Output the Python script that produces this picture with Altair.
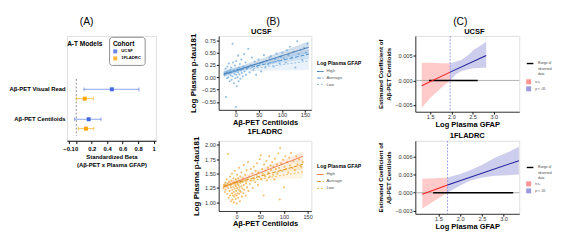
import altair as alt
import pandas as pd

FONT = "Liberation Sans"

# ---------------- Panel labels ----------------
panel_labels = ["(A)", "(B)", "(C)"]

# ---------------- Panel A data ----------------
a_measure_order = ["Aβ-PET Visual Read", "Aβ-PET Centiloids"]
a_cohort_order = ["UCSF", "1FLADRC"]
a_colors = ["#4169E1", "#FFA500"]
a_measure = ["Aβ-PET Visual Read", "Aβ-PET Visual Read", "Aβ-PET Centiloids", "Aβ-PET Centiloids"]
a_cohort = ["UCSF", "1FLADRC", "UCSF", "1FLADRC"]
a_beta = [0.46, 0.11, 0.16, 0.125]
a_lo = [0.10, 0.00, -0.02, 0.025]
a_hi = [0.81, 0.22, 0.32, 0.227]
a_ticks = [-0.1, 0, 0.2, 0.4, 0.6, 0.8, 1]

# ---------------- Panel B data ----------------
b_levels = ["High", "Average", "Low"]
b_dash = [[1, 0], [4, 2], [2, 2]]

b1_pt_x = [-24, -22, -21, -20, -19, -18, -17, -16, -15, -14, -13, -12, -11, -10, -9, -8, -7, -7, -6, -5,
           -4, -3, -2, -1, 0, 0, 1, 1, 2, 3, 4, 5, 5, 6, 7, 8, 9, 10, 11, 12, 13, 15, 16, 18, 19, 21, 22, 24,
           27, 30, 32, 35, 38, 41, 44, 46, 49, 52, 55, 58, 61, 64, 67, 70, 73, 76, 79, 82, 85, 88, 91, 95,
           98, 101, 104, 108, 111, 114, 117, 121, 125, 129, 133, 136, 140, 144, 148, 152, 155]
b1_pt_y = [0.05, 0.18, -0.40, 0.10, -0.02, 0.22, 0.12, 0.00, 0.28, 0.08, -0.08, 0.15, 0.04, 0.20, -0.05, 0.11,
           0.68, 0.02, 0.30, 0.14, -0.12, 0.07, 0.24, -0.02, 0.12, -0.60, 0.33, 0.05, -0.18, 0.16, 0.00, 0.44,
           0.10, -0.08, 0.20, 0.06, 0.27, -0.03, 0.14, 0.36, 0.09, 0.02, 0.22, 0.47, 0.12, 0.30, 0.05, 0.18,
           0.58, 0.10, 0.25, 0.40, 0.15, 0.32, 0.05, 0.22, 0.36, 0.28, 0.12, 0.30, 0.45, 0.20, 0.33, 0.26,
           0.40, 0.43, 0.30, 0.22, 0.37, 0.48, 0.34, 0.28, 0.42, 0.50, 0.38, 0.30, 0.55, 0.45, 0.62, 0.40,
           0.52, 0.20, 0.73, 0.47, 0.56, 0.35, 0.60, 0.50, 0.68]
b1_fit_x = [-26, 158]
b1_fit = {"High": [0.06, 0.61], "Average": [0.08, 0.47], "Low": [0.10, 0.33]}
b1_band_x = [-26, 20, 158]
b1_band_lo = {"High": [0.00, 0.17, 0.49], "Average": [0.03, 0.15, 0.37], "Low": [0.03, 0.12, 0.15]}
b1_band_hi = {"High": [0.12, 0.26, 0.73], "Average": [0.13, 0.23, 0.57], "Low": [0.17, 0.24, 0.51]}

b2_pt_x = [-28, -26, -25, -24, -23, -22, -21, -20, -19, -18, -18, -17, -16, -15, -14, -14, -13, -12, -12, -11,
           -10, -10, -9, -9, -8, -8, -7, -7, -6, -6, -5, -5, -4, -4, -3, -3, -2, -2, -1, -1, 0, 0, 0, 1, 1, 2,
           2, 3, 3, 4, 4, 5, 5, 6, 6, 7, 7, 8, 8, 9, 10, 10, 11, 12, 12, 13, 14, 15, 15, 16, 17, 18, 19, 20,
           21, 22, 23, 24, 25, 27, 28, 30, 31, 33, 34, 36, 37, 39, 40, 42, 43, 45, 46, 48, 49, 51, 52, 54, 55,
           57, 58, 60, 61, 63, 64, 66, 67, 69, 70, 72, 73, 75, 77, 78, 80, 81, 83, 85, 86, 88, 90, 91, 92, 94,
           96, 98, 100, 101, 103, 105, 107, 109, 111, 113, 115, 118, 120, 123, 126, 129, 132, 136, 140]
b2_pt_y = [1.25, 1.30, 1.18, 1.34, 1.22, 1.28, 1.40, 1.15, 1.32, 1.84, 1.25, 1.08, 1.36, 1.20, 1.45, 1.12, 1.30,
           1.02, 1.26, 1.38, 1.16, 1.50, 1.22, 1.05, 1.33, 1.12, 1.27, 1.42, 1.18, 1.00, 1.35, 1.10, 1.24, 1.55,
           1.14, 1.30, 1.06, 1.40, 1.20, 1.28, 1.12, 1.36, 0.98, 1.25, 1.48, 1.16, 1.32, 1.08, 1.42, 1.22, 1.30,
           1.15, 1.60, 1.26, 1.38, 1.02, 1.20, 1.34, 1.45, 1.18, 1.28, 1.52, 1.10, 1.36, 1.24, 1.42, 1.16, 1.30,
           1.65, 1.22, 1.38, 1.48, 1.12, 1.33, 1.56, 1.26, 1.40, 1.70, 1.20, 1.45, 1.32, 1.58, 1.38, 1.50, 1.25,
           1.62, 1.42, 1.35, 1.55, 1.48, 1.68, 1.30, 1.52, 1.44, 1.75, 1.82, 1.40, 1.58, 1.50, 1.12, 1.66, 1.46,
           1.55, 1.72, 1.38, 1.60, 1.52, 1.80, 1.45, 1.64, 1.56, 1.70, 1.48, 1.62, 1.40, 1.76, 1.58, 1.66, 1.50,
           1.85, 1.60, 1.05, 1.94, 1.68, 1.55, 1.74, 1.26, 1.62, 1.80, 1.58, 1.70, 1.52, 1.78, 1.64, 1.86, 1.60,
           1.72, 1.56, 1.80, 1.66, 1.75, 1.62, 1.70]
b2_fit_x = [-28, 140]
b2_fit = {"High": [1.27, 1.80], "Average": [1.28, 1.66], "Low": [1.30, 1.53]}
b2_band_x = [-28, 20, 140]
b2_band_lo = {"High": [1.22, 1.43, 1.72], "Average": [1.24, 1.39, 1.57], "Low": [1.25, 1.34, 1.42]}
b2_band_hi = {"High": [1.32, 1.48, 1.88], "Average": [1.32, 1.43, 1.75], "Low": [1.35, 1.40, 1.64]}

# ---------------- Panel C data ----------------
c_sig_order = ["n.s.", "p < .05"]
c_seg_order = ["Range of observed data", "n.s.", "p < .05"]

c1_ns_x = [1.30, 1.50, 1.75, 1.97]
c1_ns_lo = [-0.0056, -0.0036, -0.0016, 0.0]
c1_ns_hi = [0.0036, 0.0036, 0.0035, 0.0035]
c1_sig_x = [1.97, 2.10, 2.23, 2.40, 2.52, 2.70, 2.82]
c1_sig_lo = [0.0, 0.0012, 0.0019, 0.0023, 0.0025, 0.0026, 0.0026]
c1_sig_hi = [0.0035, 0.0038, 0.0042, 0.0052, 0.0062, 0.0072, 0.0079]
c1_line_x = [1.30, 1.97, 2.82]
c1_line_y = [-0.0011, 0.0017, 0.0051]
c1_range = [1.47, 2.62]
c1_jn = 1.97

c2_ns_x = [1.13, 1.42, 1.71]
c2_ns_lo = [-0.0026, -0.0013, 0.0]
c2_ns_hi = [0.0023, 0.0024, 0.0025]
c2_sig_x = [1.71, 2.00, 2.23, 2.50, 2.80, 3.10, 3.35]
c2_sig_lo = [0.0, 0.0012, 0.0020, 0.0025, 0.0028, 0.0029, 0.0030]
c2_sig_hi = [0.0025, 0.0031, 0.0037, 0.0046, 0.0058, 0.0067, 0.0076]
c2_line_x = [1.13, 1.71, 3.35]
c2_line_y = [-0.00025, 0.00127, 0.0053]
c2_range = [1.38, 3.22]
c2_jn = 1.71

AXIS = dict(grid=False, domainColor="black", domainWidth=0.8, tickColor="black", tickSize=2.5,
            labelFontSize=6, labelColor="#333", titleFontSize=8.5, titleFontWeight="bold",
            titleColor="black", labelFont=FONT, titleFont=FONT, labelOverlap=False, labelPadding=1)
XAXIS = {**AXIS, "titleFontSize": 8, "labelPadding": 0}


def text_mark(text, x, y, size, weight="normal", align="center", color="black"):
    return alt.Chart(pd.DataFrame({"t": [text]})).mark_text(
        fontSize=size, fontWeight=weight, font=FONT, color=color, baseline="middle", align=align).encode(
        text="t:N", x=alt.value(x), y=alt.value(y))


# ---------------- Panel A chart ----------------
dfA = pd.DataFrame(dict(measure=a_measure, cohort=a_cohort, beta=a_beta, lo=a_lo, hi=a_hi))
yA = alt.Y("measure:N", sort=a_measure_order,
           scale=alt.Scale(domain=a_measure_order, paddingInner=0, paddingOuter=0.75, align=0.854),
           axis=alt.Axis(title=None, domain=False, ticks=False, labelFontSize=6.3, labelFontWeight="bold",
                         labelColor="black", labelPadding=2, labelLimit=200, labelFont=FONT))
yoA = alt.YOffset("cohort:N", sort=a_cohort_order,
                  scale=alt.Scale(domain=a_cohort_order, paddingInner=0, paddingOuter=0.6, align=0.917))
cA = alt.Color("cohort:N", sort=a_cohort_order, scale=alt.Scale(domain=a_cohort_order, range=a_colors),
               legend=alt.Legend(orient="none", legendX=45, legendY=1, title="Cohort", titleFontSize=7,
                                 titleFontWeight="bold", titleColor="black", labelFontSize=4.5,
                                 labelFontWeight="bold", labelColor="black", symbolType="square",
                                 symbolSize=18, symbolStrokeWidth=0, strokeColor="#888", cornerRadius=3,
                                 padding=4, fillColor="white", rowPadding=1.5, titlePadding=2))
xscaleA = alt.Scale(domain=[-0.12, 1.03], nice=False, zero=False)
xaxA = alt.Axis(values=a_ticks,
                labelExpr="datum.value == 0 ? '0' : datum.value == 1 ? '1' : format(datum.value, '.1f')",
                title=["Standardized Beta", "(Aβ-PET x Plasma GFAP)"], titleFontSize=6.3,
                labelFontSize=6.3, labelFontWeight="bold", labelColor="black", titlePadding=3,
                grid=False, domainColor="black", tickColor="black", tickSize=3, labelOverlap=False,
                labelFont=FONT, titleFont=FONT, titleFontWeight="bold", titleColor="black",
                labelPadding=2, labelBound=False, labelFlush=False)
baseA = alt.Chart(dfA)
A_rule = baseA.mark_rule(strokeWidth=0.8, opacity=0.8).encode(
    x=alt.X("lo:Q", scale=xscaleA, axis=xaxA), x2="hi:Q", y=yA, yOffset=yoA, color=cA)
A_cap1 = baseA.mark_tick(size=4, thickness=0.8, opacity=0.8).encode(
    x=alt.X("lo:Q", scale=xscaleA, axis=xaxA), y=yA, yOffset=yoA, color=cA)
A_cap2 = baseA.mark_tick(size=4, thickness=0.8, opacity=0.8).encode(
    x=alt.X("hi:Q", scale=xscaleA, axis=xaxA), y=yA, yOffset=yoA, color=cA)
A_pt = baseA.mark_point(shape="square", filled=True, size=18, opacity=1).encode(
    x=alt.X("beta:Q", scale=xscaleA, axis=xaxA), y=yA, yOffset=yoA, color=cA)
A_zero = alt.Chart(pd.DataFrame({"v": [0]})).mark_rule(strokeDash=[2, 2], color="#666", strokeWidth=0.8).encode(
    x=alt.X("v:Q", scale=xscaleA, axis=xaxA), y=alt.value(46), y2=alt.value(107))
chartA = alt.layer(A_zero, A_rule, A_cap1, A_cap2, A_pt,
                   text_mark("A-T Models", 19, 9, 7, "bold"),
                   text_mark(panel_labels[0], 21, -15, 11)).properties(width=95, height=112)


# ---------------- Panel B charts ----------------
def b_legend(lx, ly, dy, colors):
    """Guide for the Log Plasma GFAP lines: title, line keys and labels."""
    parts = [text_mark("Log Plasma GFAP", lx, ly, 5.5, "bold", align="left")]
    for i, lvl in enumerate(b_levels):
        yy = ly + 9 + i * dy
        parts.append(alt.Chart(pd.DataFrame({"l": [lvl]})).mark_rule(
            color=colors[i], strokeDash=b_dash[i], strokeWidth=1).encode(
            x=alt.value(lx), x2=alt.value(lx + 7), y=alt.value(yy)))
        parts.append(text_mark(lvl, lx + 10, yy, 4.5, align="left", color="#555"))
    return parts


def panel_b(pt_x, pt_y, fit_x, fit, band_x, band_lo, band_hi, xdom, ydom, yticks, title,
            pt_color, line_colors, band_colors, lx, ly, dy, w, h, extra=()):
    pts = pd.DataFrame({"x": pt_x, "y": pt_y})
    fr = [{"x": x, "y": fit[l][i], "level": l, "dash": l} for l in b_levels for i, x in enumerate(fit_x)]
    br = [{"x": x, "lo": band_lo[l][i], "hi": band_hi[l][i], "lvl": l}
          for l in b_levels for i, x in enumerate(band_x)]
    xs = alt.Scale(domain=xdom, nice=False, zero=False)
    ys = alt.Scale(domain=ydom, nice=False, zero=False)
    xax = alt.Axis(values=[0, 50, 100, 150], title="Aβ-PET Centiloids", titlePadding=1, **XAXIS)
    yax = alt.Axis(values=yticks, format=".2f", title="Log Plasma p-tau181", titlePadding=4, **AXIS)
    band = alt.Chart(pd.DataFrame(br)).mark_area(opacity=0.22, interpolate="monotone").encode(
        x=alt.X("x:Q", scale=xs, axis=xax), y=alt.Y("lo:Q", scale=ys, axis=yax), y2="hi:Q",
        fill=alt.Fill("lvl:N", sort=b_levels, scale=alt.Scale(domain=b_levels, range=band_colors),
                      legend=None))
    point = alt.Chart(pts).mark_circle(size=5, opacity=0.75, color=pt_color).encode(
        x=alt.X("x:Q", scale=xs, axis=xax), y=alt.Y("y:Q", scale=ys, axis=yax))
    line = alt.Chart(pd.DataFrame(fr)).mark_line(strokeWidth=1).encode(
        x=alt.X("x:Q", scale=xs, axis=xax), y=alt.Y("y:Q", scale=ys, axis=yax),
        color=alt.Color("level:N", sort=b_levels, scale=alt.Scale(domain=b_levels, range=line_colors),
                        legend=None),
        strokeDash=alt.StrokeDash("dash:N", sort=b_levels, scale=alt.Scale(domain=b_levels, range=b_dash),
                                  legend=None))
    room = alt.Chart(pd.DataFrame({"r": [0]})).mark_rule(opacity=0).encode(
        x=alt.value(w), x2=alt.value(lx + 46), y=alt.value(ly))
    props = dict(width=w, height=h)
    if title:
        props["title"] = alt.TitleParams(title, fontSize=8, fontWeight="bold", offset=0, font=FONT)
    return alt.layer(band, point, line, room, *b_legend(lx, ly, dy, line_colors), *extra).properties(**props)


B1 = panel_b(b1_pt_x, b1_pt_y, b1_fit_x, b1_fit, b1_band_x, b1_band_lo, b1_band_hi,
             [-37, 163.7], [-0.66, 0.84], [-0.5, -0.25, 0, 0.25, 0.5, 0.75], None, "#6FA8DC",
             ["#2F6BA8", "#4A8BC9", "#8DB9E3"], ["#2F6BA8", "#5B9BD5", "#9DC3E6"], 105, 29, 7, 99, 79,
             extra=(text_mark("UCSF", 45.5, -4, 8, "bold"), text_mark(panel_labels[1], 58, -15, 11)))
B2 = panel_b(b2_pt_x, b2_pt_y, b2_fit_x, b2_fit, b2_band_x, b2_band_lo, b2_band_hi,
             [-38, 158], [0.85, 2.07], [1.0, 1.25, 1.5, 1.75, 2.0], "1FLADRC", "#F2A93B",
             ["#EE6A3A", "#D4900E", "#F5B547"], ["#F4A06A", "#F2B860", "#F8CC80"], 105, 27, 7.5, 99, 75)


# ---------------- Panel C charts ----------------
def panel_c(ns_x, ns_lo, ns_hi, sig_x, sig_lo, sig_hi, line_x, line_y, rng, jn, xdom, ydom, yticks,
            title, lx, ly, ly2, w, h, extra=()):
    br = ([{"x": x, "lo": ns_lo[i], "hi": ns_hi[i], "band": "n.s."} for i, x in enumerate(ns_x)] +
          [{"x": x, "lo": sig_lo[i], "hi": sig_hi[i], "band": "p < .05"} for i, x in enumerate(sig_x)])
    lr = [{"x": line_x[0], "y": line_y[0], "seg": "n.s."}, {"x": line_x[1], "y": line_y[1], "seg": "n.s."},
          {"x": line_x[1], "y": line_y[1], "seg": "p < .05"}, {"x": line_x[2], "y": line_y[2], "seg": "p < .05"}]
    rr = [{"x": rng[0], "y": 0.0, "seg": "Range of observed data"},
          {"x": rng[1], "y": 0.0, "seg": "Range of observed data"}]
    xs = alt.Scale(domain=xdom, nice=False, zero=False)
    ys = alt.Scale(domain=ydom, nice=False, zero=False)
    xax = alt.Axis(values=[1.5, 2.0, 2.5, 3.0], format=".1f", title="Log Plasma GFAP", titlePadding=1, **XAXIS)
    yax = alt.Axis(values=yticks, format=".3f", title=["Estimated Coefficient of", "Aβ-PET Centiloids"],
                   titlePadding=4, **{**AXIS, "titleFontSize": 6.5})
    sleg = alt.Legend(orient="none", legendX=lx, legendY=ly, title=None, values=["Range of observed data"],
                      labelExpr="['Range of', 'observed', 'data']", labelFontSize=3.5, labelColor="#444",
                      symbolType="stroke", symbolSize=50, symbolStrokeWidth=1.5)
    sscale = alt.Scale(domain=c_seg_order, range=["black", "#FF2020", "#1F1F9E"])
    band = alt.Chart(pd.DataFrame(br)).mark_area(opacity=0.35).encode(
        x=alt.X("x:Q", scale=xs, axis=xax), y=alt.Y("lo:Q", scale=ys, axis=yax), y2="hi:Q",
        fill=alt.Fill("band:N", sort=c_sig_order, scale=alt.Scale(domain=c_sig_order, range=["#FF6666", "#7070CC"]),
                      legend=alt.Legend(orient="none", legendX=lx, legendY=ly2, title=None, labelFontSize=3.5,
                                        labelColor="#444", symbolType="square", symbolSize=28,
                                        symbolOpacity=0.7, symbolStrokeWidth=0, rowPadding=1.5)))
    zero = alt.Chart(pd.DataFrame({"v": [0.0]})).mark_rule(color="#999", strokeWidth=0.8).encode(
        y=alt.Y("v:Q", scale=ys, axis=yax))
    vline = alt.Chart(pd.DataFrame({"v": [jn]})).mark_rule(color="#8C8CE6", strokeWidth=0.9,
                                                           strokeDash=[2, 1.5]).encode(
        x=alt.X("v:Q", scale=xs, axis=xax))
    rngl = alt.Chart(pd.DataFrame(rr)).mark_line(strokeWidth=1.5).encode(
        x=alt.X("x:Q", scale=xs, axis=xax), y=alt.Y("y:Q", scale=ys, axis=yax),
        stroke=alt.Stroke("seg:N", scale=sscale, legend=sleg))
    jline = alt.Chart(pd.DataFrame(lr)).mark_line(strokeWidth=1.1).encode(
        x=alt.X("x:Q", scale=xs, axis=xax), y=alt.Y("y:Q", scale=ys, axis=yax),
        stroke=alt.Stroke("seg:N", scale=sscale, legend=sleg))
    props = dict(width=w, height=h)
    if title:
        props["title"] = alt.TitleParams(title, fontSize=8, fontWeight="bold", offset=0, font=FONT)
    return alt.layer(band, zero, vline, rngl, jline, *extra).properties(**props)


C1 = panel_c(c1_ns_x, c1_ns_lo, c1_ns_hi, c1_sig_x, c1_sig_lo, c1_sig_hi, c1_line_x, c1_line_y, c1_range,
             c1_jn, [1.15, 3.6], [-0.0064, 0.0091], [-0.005, 0, 0.005], None, 118, 25, 46, 111, 81,
             extra=(text_mark("UCSF", 63, -4, 8, "bold"), text_mark(panel_labels[2], 48, -15, 11)))
C2 = panel_c(c2_ns_x, c2_ns_lo, c2_ns_hi, c2_sig_x, c2_sig_lo, c2_sig_hi, c2_line_x, c2_line_y, c2_range,
             c2_jn, [0.97, 3.36], [-0.0035, 0.0086], [-0.003, 0, 0.003, 0.006], "1FLADRC", 118, 24, 43, 111, 78)

IND = dict(color="independent", fill="independent", stroke="independent", strokeDash="independent",
           x="independent", y="independent")

colB = alt.vconcat(B1, B2, spacing=33, bounds="flush").resolve_scale(**IND)
colC = alt.vconcat(C1, C2, spacing=31, bounds="flush").resolve_scale(**IND)
AB = alt.hconcat(chartA, colB, spacing=33).resolve_scale(**IND)
chart = alt.hconcat(AB, colC, spacing=15).resolve_scale(**IND).properties(
    padding={"left": 0, "top": 0, "right": 0, "bottom": 0}
).configure_view(strokeWidth=0, stroke="transparent").configure_axis(labelOverlap=False).configure(
    font=FONT).configure_title(font=FONT, color="black")

chart.save("out.html", embed_options={"renderer": "svg", "actions": False})
